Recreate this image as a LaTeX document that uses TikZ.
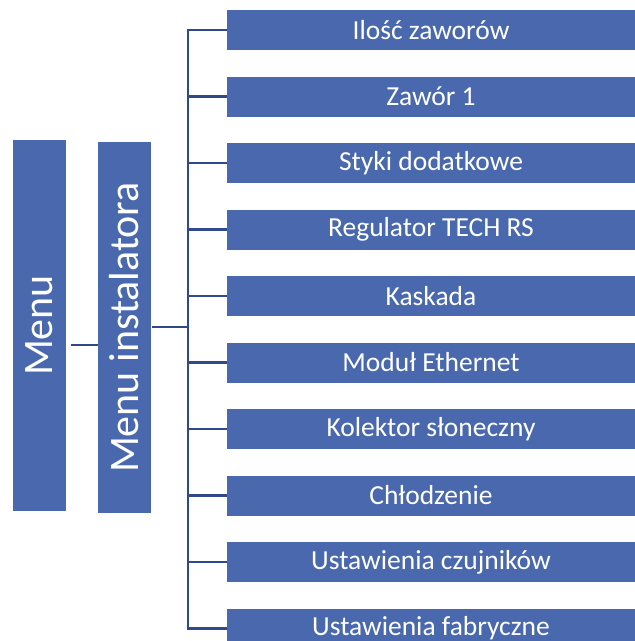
\documentclass[tikz,border=0pt]{standalone}
\usepackage{fontspec}
\setmainfont{Carlito}
\definecolor{boxblue}{RGB}{73,104,173}
\definecolor{lineblue}{RGB}{47,74,138}
\begin{document}
\begin{tikzpicture}[x=1pt,y=-1pt,
  item/.style={fill=boxblue,draw=none,minimum width=408pt,minimum height=40pt,inner sep=0pt,text=white,font=\fontsize{27.5}{32}\selectfont},
  vbox/.style={fill=boxblue,draw=none,minimum width=371pt,minimum height=53pt,inner sep=0pt,text=white,font=\fontsize{42}{48}\selectfont,rotate=90},
  conn/.style={draw=lineblue,line width=2.5pt}]
\useasboundingbox (0,0) rectangle (635,641);
\node[vbox] (menu) at (39.5,325.5) {Menu};
\node[vbox] (inst) at (124,327.5) {Menu instalatora};
\coordinate (trunk) at (188,327);
\foreach \t [count=\i from 0] in {Ilość zaworów,Zawór 1,Styki dodatkowe,Regulator TECH RS,Kaskada,Moduł Ethernet,Kolektor słoneczny,Chłodzenie,Ustawienia czujników,Ustawienia fabryczne}{
  \node[item] (it\i) at (431,30+66.5*\i) {\t};
  \draw[conn] (it\i.west) -- (188,30+66.5*\i);
}
\draw[conn] (it0.west) -| (188,30) -- (188,628.5) -- (it9.west);
\draw[conn] (71,345) -- (98,345);
\draw[conn] (152,327) -- (trunk);
\end{tikzpicture}
\end{document}
